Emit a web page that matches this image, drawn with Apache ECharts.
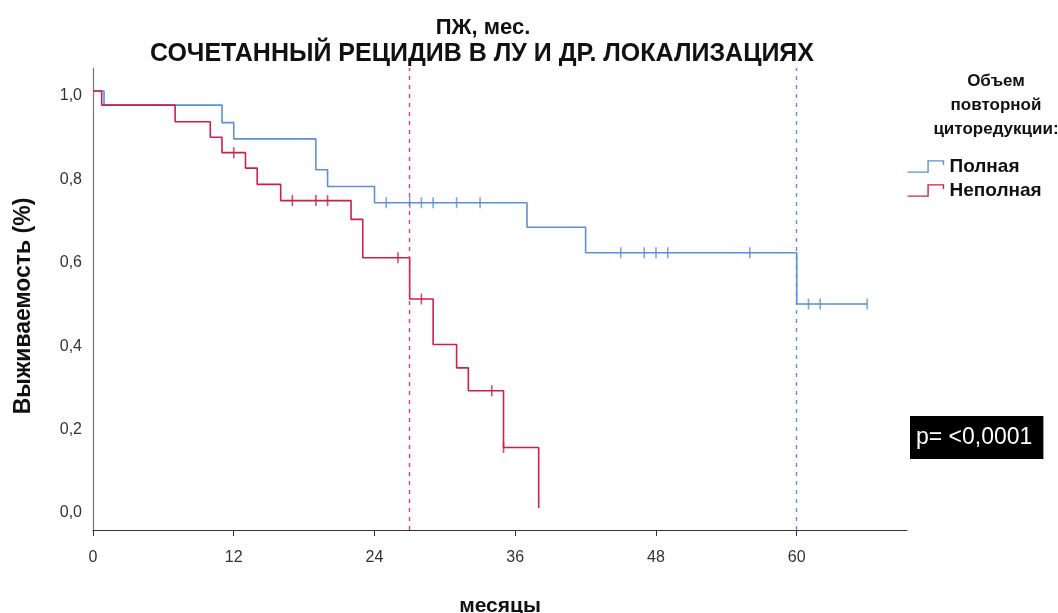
<!DOCTYPE html>
<html>
<head>
<meta charset="utf-8">
<script src="https://cdn.jsdelivr.net/npm/echarts@6/dist/echarts.min.js"></script>
<style>
  html, body { margin: 0; padding: 0; background: #fff; overflow: hidden; }
  #chart { width: 1058px; height: 613px; }
</style>
</head>
<body>
<div id="chart"></div>
<script>
// Kaplan–Meier steps: time (months) of each event and survival after it
const fullTimes    = [0, 0.94, 11, 12, 19, 20, 24, 37, 42, 60, 66];
const fullSurv     = [1.0, 0.966, 0.924, 0.885, 0.811, 0.771, 0.732, 0.673, 0.612, 0.489, 0.489];
const partialTimes = [0, 0.74, 7, 10, 11, 13, 14, 16, 22, 23, 27, 29, 31, 32, 35, 38];
const partialSurv  = [1.0, 0.966, 0.926, 0.889, 0.852, 0.815, 0.776, 0.737, 0.692, 0.600, 0.501, 0.392, 0.336, 0.281, 0.145, 0.0];

// Censored observations (months)
const fullCensored    = [25, 27, 28, 29, 31, 33, 45, 47, 48, 49, 56, 61, 62, 66];
const partialCensored = [12, 17, 19, 20, 26, 28, 34, 35];

// Median survival times per group
const medianFull = 60;
const medianPartial = 27;

const groupNames = ['Полная', 'Неполная'];
const xTicks = [0, 12, 24, 36, 48, 60];
const yTicks = [0, 0.2, 0.4, 0.6, 0.8, 1.0];

const BLUE = '#5b8fd6';
const RED = '#cc1f4b';
const FONT = 'Liberation Sans, Arial, sans-serif';

function stepPairs(times, surv) {
  return times.map((t, i) => [t, surv[i]]);
}
// survival level of a group at time t (value of the last step at or before t)
function survAt(times, surv, t) {
  let s = surv[0];
  for (let i = 0; i < times.length; i++) if (times[i] <= t) s = surv[i];
  return s;
}
function censorPairs(cens, times, surv) {
  return cens.map(t => [t, survAt(times, surv, t)]);
}

const legendIcon = 'path://M0,12 L20,12 L20,1 L35,1 L35,5';

const chart = echarts.init(document.getElementById('chart'));
chart.setOption({
  animation: false,
  backgroundColor: '#fff',
  title: [
    {
      text: 'ПЖ, мес.',
      left: 478, top: 12, textAlign: 'center',
      textStyle: { fontFamily: FONT, fontSize: 22, fontWeight: 'bold', color: '#111' }
    },
    {
      text: 'СОЧЕТАННЫЙ РЕЦИДИВ В ЛУ И ДР. ЛОКАЛИЗАЦИЯХ',
      left: 477, top: 37, textAlign: 'center',
      textStyle: { fontFamily: FONT, fontSize: 25, fontWeight: 'bold', color: '#111' }
    },
    {
      text: 'Объем\nповторной\nциторедукции:',
      left: 991, top: 64, textAlign: 'center',
      textStyle: { fontFamily: FONT, fontSize: 17, fontWeight: 'bold', color: '#111', lineHeight: 24, align: 'center' }
    },
    {
      text: 'p= <0,0001',
      left: 910, top: 416,
      backgroundColor: '#000',
      padding: [10, 11, 9, 6],
      textStyle: { fontFamily: FONT, fontSize: 23, fontWeight: 'normal', color: '#fff', lineHeight: 24 }
    }
  ],
  legend: {
    orient: 'vertical',
    left: 905, top: 157, padding: 0,
    itemWidth: 36, itemHeight: 12, itemGap: 5,
    textStyle: { fontFamily: FONT, fontSize: 19, fontWeight: 'bold', color: '#111', padding: [0, 0, 0, 1] },
    data: [
      { name: groupNames[0], icon: legendIcon, itemStyle: { color: 'none', borderColor: BLUE, borderWidth: 1.4 } },
      { name: groupNames[1], icon: legendIcon, itemStyle: { color: 'none', borderColor: RED, borderWidth: 1.4 } }
    ]
  },
  grid: { left: 93, right: 151, top: 68, bottom: 83, containLabel: false, outerBoundsMode: 'none' },
  xAxis: {
    type: 'value',
    min: 0, max: 69.4,
    name: 'месяцы',
    nameLocation: 'middle',
    nameGap: 66,
    nameTextStyle: { fontFamily: FONT, fontSize: 21, fontWeight: 'bold', color: '#111' },
    axisLine: { show: true, onZero: false, lineStyle: { color: '#333', width: 1.2 } },
    axisTick: { show: true, customValues: xTicks, length: 6, inside: false, lineStyle: { color: '#333' } },
    axisLabel: { customValues: xTicks, margin: 20, fontFamily: FONT, fontSize: 16, color: '#333', formatter: v => String(v) },
    splitLine: { show: false }
  },
  yAxis: {
    type: 'value',
    min: -0.0528, max: 1.055,
    name: 'Выживаемость (%)',
    nameLocation: 'middle',
    nameGap: 58,
    nameTextStyle: { fontFamily: FONT, fontSize: 23, fontWeight: 'bold', color: '#111', padding: [0, 14, 0, 0] },
    axisLine: { show: true, onZero: false, lineStyle: { color: '#777', width: 1.2 } },
    axisTick: { show: false },
    axisLabel: { customValues: yTicks, margin: 11, fontFamily: FONT, fontSize: 16, color: '#333',
      verticalAlign: 'top', lineHeight: 10,
      formatter: v => v.toFixed(1).replace('.', ',') },
    splitLine: { show: false }
  },
  series: [
    {
      name: groupNames[0], type: 'line', step: 'end', symbol: 'none',
      data: stepPairs(fullTimes, fullSurv),
      lineStyle: { color: BLUE, width: 1.6 }, itemStyle: { color: BLUE },
      z: 3,
      markLine: {
        silent: true, symbol: 'none', label: { show: false },
        lineStyle: { color: BLUE, type: [4, 5], width: 1.4 },
        data: [{ xAxis: medianFull }]
      }
    },
    {
      name: groupNames[1], type: 'line', step: 'end', symbol: 'none',
      data: stepPairs(partialTimes, partialSurv),
      lineStyle: { color: RED, width: 1.6 }, itemStyle: { color: RED },
      z: 4,
      markLine: {
        silent: true, symbol: 'none', label: { show: false },
        lineStyle: { color: '#e0416a', type: [4, 5], width: 1.4 },
        data: [{ xAxis: medianPartial }]
      }
    },
    {
      name: groupNames[0] + ' (цензур.)', type: 'scatter',
      data: censorPairs(fullCensored, fullTimes, fullSurv),
      symbol: 'rect', symbolSize: [1.6, 11],
      itemStyle: { color: BLUE }, z: 5, legendHoverLink: false
    },
    {
      name: groupNames[1] + ' (цензур.)', type: 'scatter',
      data: censorPairs(partialCensored, partialTimes, partialSurv),
      symbol: 'rect', symbolSize: [1.6, 11],
      itemStyle: { color: RED }, z: 6, legendHoverLink: false
    }
  ]
});
</script>
</body>
</html>
